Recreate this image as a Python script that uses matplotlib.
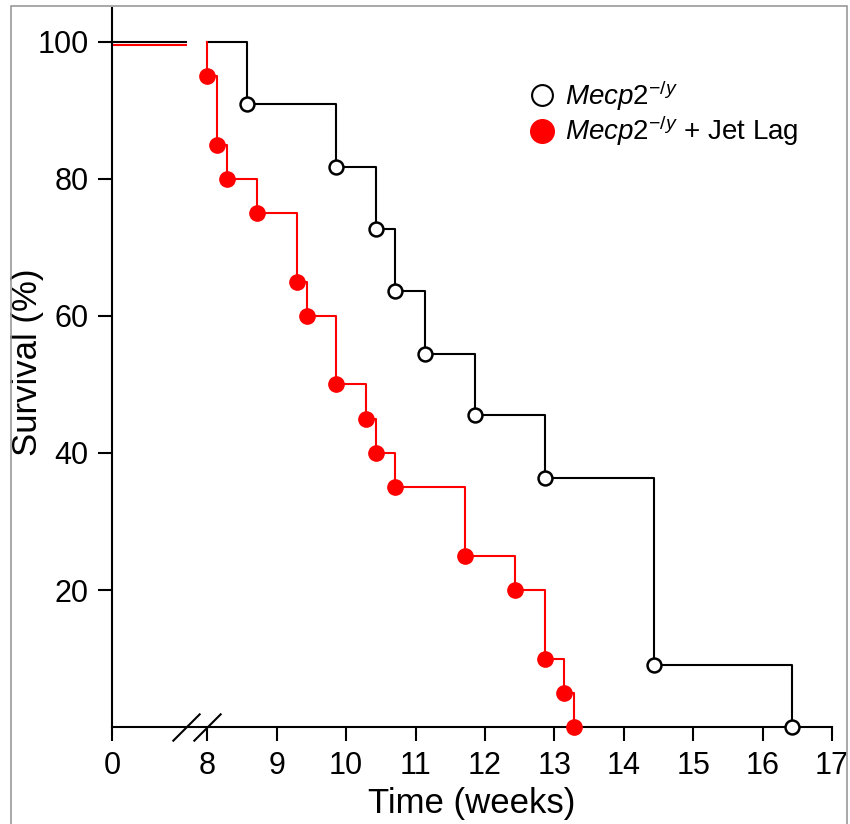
import numpy as np
import matplotlib
matplotlib.use("Agg")
import matplotlib.pyplot as plt
from matplotlib.lines import Line2D
from matplotlib.patches import Rectangle

#***** Data (time in weeks, survival in %) *****#
ko_time = [8.57, 9.86, 10.43, 10.71, 11.14, 11.86, 12.86, 14.43, 16.43]
ko_surv = [90.9, 81.8, 72.7, 63.6, 54.5, 45.5, 36.4, 9.1, 0.0]

jl_time = [8.0, 8.14, 8.29, 8.71, 9.29, 9.43, 9.86, 10.29, 10.43, 10.71,
           11.71, 12.43, 12.86, 13.14, 13.29]
jl_surv = [95, 85, 80, 75, 65, 60, 50, 45, 40, 35, 25, 20, 10, 5, 0]

x_ticks = [0, 8, 9, 10, 11, 12, 13, 14, 15, 16, 17]
y_ticks = [20, 40, 60, 80, 100]
pre_break = [0, 6.3]   # survival line drawn before the axis break
break_at = [6.2, 8.0]  # where the two slashes sit

label_ko = r'$\mathit{Mecp2}^{\mathit{-/y}}$'
label_jl = r'$\mathit{Mecp2}^{\mathit{-/y}}$ + Jet Lag'

#***** Fonts *****#
plt.rcParams['font.family'] = ['Liberation Sans', 'DejaVu Sans']
plt.rcParams['mathtext.fontset'] = 'custom'
plt.rcParams['mathtext.rm'] = 'Liberation Sans'
plt.rcParams['mathtext.it'] = 'Liberation Sans:italic'

#***** Broken x axis: 0-8 squeezed *****#
k = 1.373 / 8.
def fwd(x):
    x = np.asarray(x, dtype=float)
    return np.where(x < 8, x * k, x - 8 + 8 * k)
def inv(y):
    y = np.asarray(y, dtype=float)
    return np.where(y < 8 * k, y / k, y + 8 - 8 * k)

fig = plt.figure(figsize=(8.5, 8.24), dpi=100)
ax = fig.add_axes([0.1318, 0.1177, 0.9788 - 0.1318, 0.8726])
ax.set_xscale('function', functions=(fwd, inv))

lw = 1.5
# before the break
ax.plot(pre_break, [100, 100], color='black', lw=lw, solid_capstyle='butt')
ax.plot(pre_break, [99.6, 99.6], color='red', lw=lw, solid_capstyle='butt')

# Kaplan-Meier style steps
ax.step([8] + ko_time, [100] + ko_surv, where='post', color='black', lw=lw, zorder=3)
ax.step([8] + jl_time, [100] + jl_surv, where='post', color='red', lw=lw, zorder=3)
ax.plot(ko_time, ko_surv, 'o', ms=10, mfc='white', mec='black', mew=1.8,
        zorder=5, clip_on=False)
ax.plot(jl_time, jl_surv, 'o', ms=11, mfc='red', mec='red', zorder=5, clip_on=False)

# break marks on the x axis
ax.plot(break_at, [0, 0], ls='none', marker=[(-1, -1), (1, 1)], ms=20,
        mec='black', mew=1.5, clip_on=False, zorder=6)

ax.set_xlim(0, 17)
ax.set_ylim(0, 104.96)
ax.set_xticks(x_ticks)
ax.set_xticklabels([str(t) for t in x_ticks])
ax.set_yticks(y_ticks)
ax.minorticks_off()

for s in ['top', 'right']:
    ax.spines[s].set_visible(False)
for s in ['left', 'bottom']:
    ax.spines[s].set_linewidth(1.5)
ax.tick_params(direction='out', length=10, width=1.5, labelsize=22, pad=7)

ax.set_xlabel('Time (weeks)', fontsize=25)
ax.set_ylabel('Survival (%)', fontsize=25)
ax.xaxis.set_label_coords(0.499, -0.083)
ax.yaxis.set_label_coords(-0.094, 0.508)

# legend
handles = [Line2D([], [], ls='none', marker='o', ms=15, mfc='white', mec='black', mew=1.5),
           Line2D([], [], ls='none', marker='o', ms=17, mfc='red', mec='red')]
ax.legend(handles, [label_ko, label_jl], loc='upper left', bbox_to_anchor=(0.562, 0.918),
          frameon=False, fontsize=20, handlelength=1.0, handletextpad=0.35,
          labelspacing=0.05, borderaxespad=0)

# thin grey frame round the panel
fig.add_artist(Rectangle((11 / 850., -0.02), (847 - 11) / 850., 0.9927 + 0.02,
                         transform=fig.transFigure, fill=False, edgecolor='0.6',
                         lw=1.2, clip_on=False))

fig.savefig('out.png', dpi=100)
